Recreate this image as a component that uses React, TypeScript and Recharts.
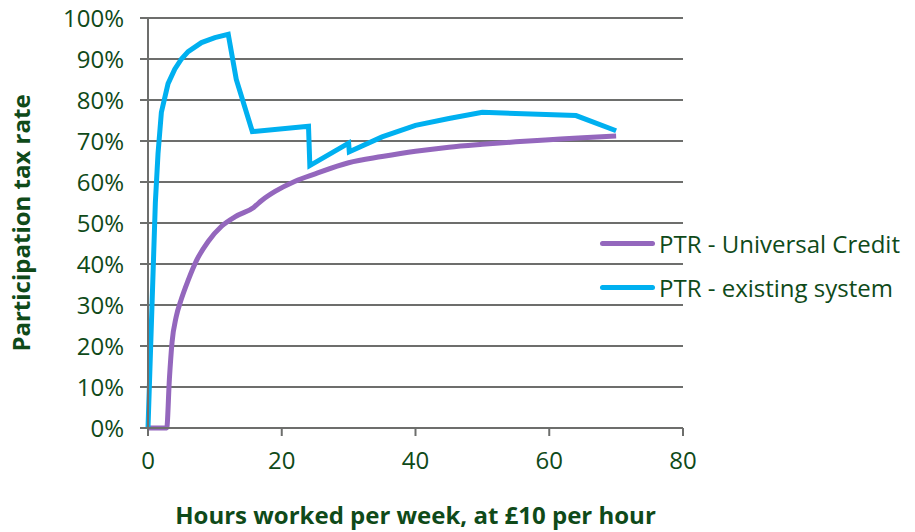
import { CartesianGrid, Label, Line, LineChart, XAxis, YAxis } from "recharts";

// Hours worked per week and participation tax rate (%)
const ucName = "PTR - Universal Credit";
const ucHours = [0, 2.8, 3.2, 3.6, 4.2, 5, 6, 7.3, 9, 11, 13, 15.8, 17, 19, 22, 25, 30, 35, 40, 45, 50, 55, 60, 65, 70];
const ucRate = [0, 0, 12, 21, 27, 31.5, 36, 41, 45.5, 49.2, 51.5, 53.8, 55.5, 57.7, 60.2, 62, 64.7, 66.2, 67.5, 68.5, 69.2, 69.8, 70.3, 70.8, 71.2];

const existingName = "PTR - existing system";
const existingHours = [0, 1.1, 1.5, 2, 3, 4, 5, 6, 8, 10, 12, 13.2, 15.6, 24, 24.2, 30, 30.1, 35, 40, 45, 50, 64, 70];
const existingRate = [0, 55, 67, 77, 84, 87.5, 90, 91.8, 94, 95.2, 96, 85, 72.3, 73.6, 64, 69.5, 67.4, 71, 73.8, 75.5, 77, 76.2, 72.5];

const xTicks = [0, 20, 40, 60, 80];
const yTicks = [0, 10, 20, 30, 40, 50, 60, 70, 80, 90, 100];

const ucData = ucHours.map((h, i) => ({ hours: h, rate: ucRate[i] }));
const existingData = existingHours.map((h, i) => ({ hours: h, rate: existingRate[i] }));

const TEXT = "#0f4a19";
const GRID = "#6d6e6c";
const PURPLE = "#9467bd";
const BLUE = "#00b0f0";
const FONT = "'Open Sans', sans-serif";

const series = [
  { name: ucName, color: PURPLE },
  { name: existingName, color: BLUE },
];

export default function App() {
  return (
    <div style={{ position: "absolute", left: 0, top: 0, width: 915, height: 532, background: "#fff", fontFamily: FONT }}>
      <LineChart width={915} height={532} margin={{ top: 18, right: 232, bottom: 0, left: 0 }}>
        <CartesianGrid vertical={false} stroke={GRID} strokeWidth={2} />
        <XAxis
          type="number"
          dataKey="hours"
          domain={[0, 80]}
          ticks={xTicks}
          height={104}
          stroke={GRID}
          strokeWidth={2}
          tickSize={8}
          tickMargin={16}
          tick={{ fill: TEXT, fontSize: 24, fontFamily: FONT }}
        >
          <Label
            content={({ viewBox }: any) => (
              <text
                x={viewBox.x + viewBox.width / 2}
                y={524}
                textAnchor="middle"
                fill={TEXT}
                fontSize={24}
                fontWeight="bold"
                fontFamily={FONT}
              >
                Hours worked per week, at £10 per hour
              </text>
            )}
          />
        </XAxis>
        <YAxis
          type="number"
          domain={[0, 100]}
          ticks={yTicks}
          width={148}
          stroke={GRID}
          strokeWidth={2}
          tickSize={8}
          tickMargin={16}
          tickFormatter={(v) => `${v}%`}
          tick={{ fill: TEXT, fontSize: 24, fontFamily: FONT }}
        >
          <Label
            content={({ viewBox }: any) => {
              const cy = viewBox.y + viewBox.height / 2;
              return (
                <text
                  x={30}
                  y={cy}
                  transform={`rotate(-90, 30, ${cy})`}
                  textAnchor="middle"
                  fill={TEXT}
                  fontSize={24}
                  fontWeight="bold"
                  fontFamily={FONT}
                >
                  Participation tax rate
                </text>
              );
            }}
          />
        </YAxis>
        <Line
          data={ucData}
          dataKey="rate"
          name={ucName}
          type="monotone"
          stroke={PURPLE}
          strokeWidth={5}
          dot={false}
          isAnimationActive={false}
        />
        <Line
          data={existingData}
          dataKey="rate"
          name={existingName}
          type="linear"
          stroke={BLUE}
          strokeWidth={5}
          dot={false}
          isAnimationActive={false}
        />
      </LineChart>
      <div style={{ position: "absolute", left: 600, top: 221 }}>
        {series.map((s) => (
          <div key={s.name} style={{ display: "flex", alignItems: "center", height: 44 }}>
            <div style={{ width: 55, height: 5, borderRadius: 3, background: s.color, marginRight: 4 }} />
            <span style={{ color: TEXT, fontSize: 24, whiteSpace: "nowrap" }}>{s.name}</span>
          </div>
        ))}
      </div>
    </div>
  );
}
